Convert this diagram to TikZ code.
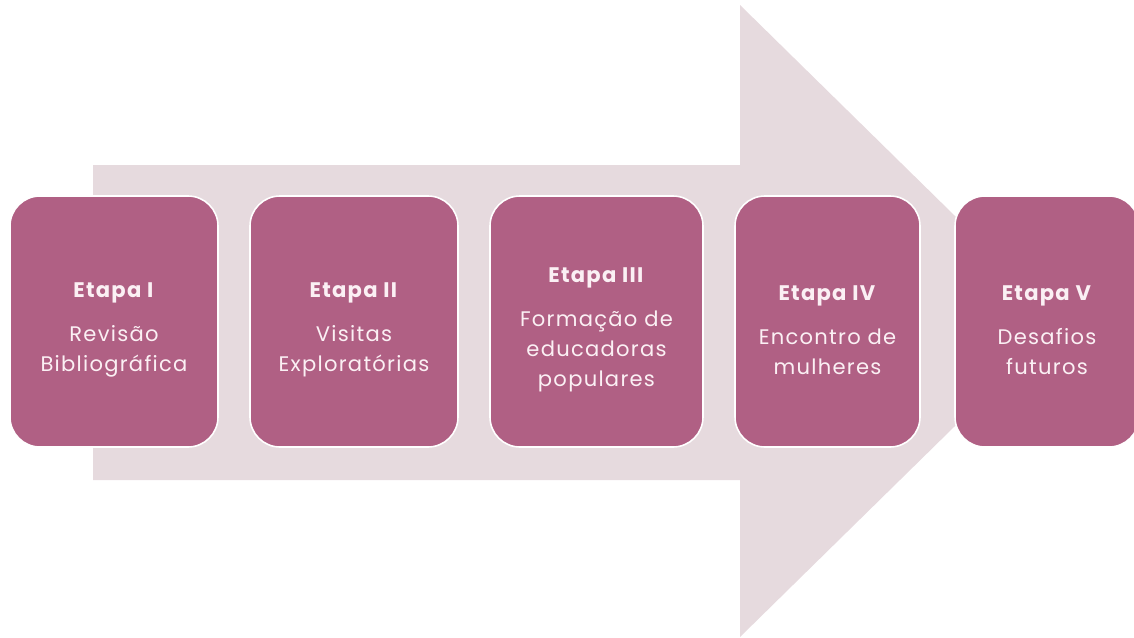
\documentclass[tikz,border=0pt]{standalone}
\usepackage{fontspec}
\setmainfont{Poppins}[LetterSpace=6]
\usepackage{tikz}

\definecolor{shaftpink}{HTML}{E6DADE}
\definecolor{stagerose}{HTML}{B06084}
\definecolor{stagetext}{HTML}{FBF0F4}
\newcommand\stagehead[1]{\rule{0pt}{18pt}\textbf{\large #1}}

\begin{document}
\begin{tikzpicture}[x=0.2mm, y=-0.2mm,
  stagebox/.style={draw=white, line width=0.9pt, fill=stagerose, rounded corners=6mm,
    minimum height=50.2mm, inner sep=0pt, align=center, text=stagetext,
    font=\fontsize{12}{17}\selectfont}]
\useasboundingbox (0,0) rectangle (1134,637);
\clip (0,0) rectangle (1134,637);

\fill[shaftpink] (93,165) -- (740,165) -- (740,5) -- (1062,321) -- (740,637) -- (740,480) -- (93,480) -- cycle;

\node[stagebox, minimum width=41.6mm] (etapa1) at (114,321.5) {\stagehead{Etapa I}\\[8pt]Revisão\\Bibliográfica};
\node[stagebox, minimum width=41.6mm] (etapa2) at (354,321.5) {\stagehead{Etapa II}\\[8pt]Visitas\\Exploratórias};
\node[stagebox, minimum width=42.6mm] (etapa3) at (596.5,321.5) {\stagehead{Etapa III}\\[8pt]Formação de\\educadoras\\populares};
\node[stagebox, minimum width=37mm] (etapa4) at (827.5,321.5) {\stagehead{Etapa IV}\\[8pt]Encontro de\\mulheres};
\node[stagebox, minimum width=36.8mm] (etapa5) at (1047,321.5) {\stagehead{Etapa V}\\[8pt]Desafios\\futuros};
\end{tikzpicture}
\end{document}
